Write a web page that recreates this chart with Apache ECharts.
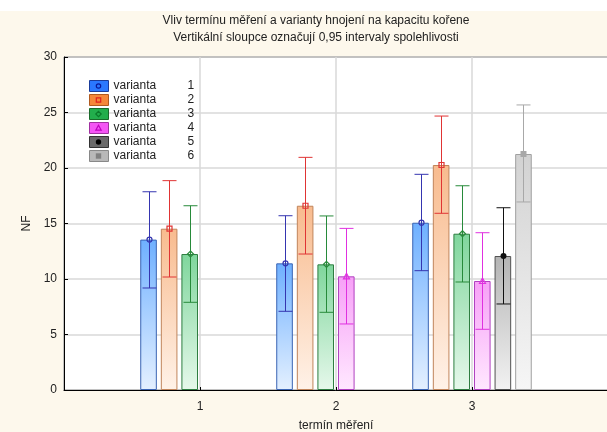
<!DOCTYPE html>
<html><head><meta charset="utf-8">
<script src="https://cdn.jsdelivr.net/npm/echarts@6/dist/echarts.min.js"></script>
<style>html,body{margin:0;padding:0;background:#fdf8ec}#c{width:607px;height:432px}</style>
</head><body><div id="c"></div>
<script>
// ---- data ----
const termCategories = ['', '1', '2', '3', ''];   // padded so 1..3 sit at positions 1..3 of a 0..4 axis
const variantNames = ['varianta 1', 'varianta 2', 'varianta 3', 'varianta 4', 'varianta 5', 'varianta 6'];
const yTickValues = [0, 5, 10, 15, 20, 25, 30];

// means for termín 1, 2, 3
const mean1 = [13.55, 11.41, 15.07];
const mean2 = [14.53, 16.60, 20.27];
const mean3 = [12.25, 11.32, 14.08];
const mean4 = [null, 10.24, 9.82];
const mean5 = [null, null, 12.07];
const mean6 = [null, null, 21.26];
// 0.95 confidence interval bounds
const low1 = [9.19, 7.09, 10.75];
const high1 = [17.86, 15.70, 19.43];
const low2 = [10.18, 12.25, 15.92];
const high2 = [18.86, 20.96, 24.68];
const low3 = [7.90, 7.00, 9.73];
const high3 = [16.60, 15.68, 18.40];
const low4 = [null, 5.95, 5.47];
const high4 = [null, 14.56, 14.17];
const low5 = [null, null, 7.75];
const high5 = [null, null, 16.42];
const low6 = [null, null, 16.94];
const high6 = [null, null, 25.68];

const means = [mean1, mean2, mean3, mean4, mean5, mean6];
const lows = [low1, low2, low3, low4, low5, low6];
const highs = [high1, high2, high3, high4, high5, high6];

// ---- styles ----
const FONT = 'Liberation Sans, Arial, sans-serif';
const TXT = '#222';
const BAR_W = 16.6;
const BAR_GAP = 0.24;
const barTop = ['#6eb0ff', '#f8bb8e', '#7fd69c', '#f7a0f7', '#b4b4b4', '#d2d2d2'];
const barBottom = ['#e4f0ff', '#fff2e8', '#e6f8eb', '#ffe8ff', '#f2f2f2', '#f6f6f6'];
const barBorder = ['#3a64b4', '#c0845a', '#2e7d40', '#b040c0', '#505050', '#a0a0a0'];
const whiskerColor = ['#3535b0', '#e03434', '#278a3a', '#e030e0', '#111111', '#a8a8a8'];
const markerType = ['circle', 'square', 'diamond', 'triangle', 'dot', 'block'];
const legendFill = ['#2a78ff', '#f5883a', '#22ae4c', '#f455f4', '#6a6a6a', '#b8b8b8'];
const legendBorder = ['#1a3c9a', '#b05a20', '#1a6a2a', '#a030a0', '#333333', '#888888'];
const legendMarkColor = ['#0a1a9a', '#e02020', '#0a7a2a', '#c000c0', '#000000', '#808080'];

function markerShape(type, x, y, color, s) {
  const r = s;
  switch (type) {
    case 'circle': return {type: 'circle', shape: {cx: x, cy: y, r: r}, style: {fill: 'transparent', stroke: color, lineWidth: 1.2}};
    case 'square': return {type: 'rect', shape: {x: x - r, y: y - r, width: 2 * r, height: 2 * r}, style: {fill: 'transparent', stroke: color, lineWidth: 1.2}};
    case 'diamond': return {type: 'polygon', shape: {points: [[x, y - r - 0.5], [x + r + 0.5, y], [x, y + r + 0.5], [x - r - 0.5, y]]}, style: {fill: 'transparent', stroke: color, lineWidth: 1.2}};
    case 'triangle': return {type: 'polygon', shape: {points: [[x, y - r - 0.5], [x + r + 0.5, y + r], [x - r - 0.5, y + r]]}, style: {fill: 'transparent', stroke: color, lineWidth: 1.2}};
    case 'dot': return {type: 'circle', shape: {cx: x, cy: y, r: r + 0.5}, style: {fill: color}};
    default: return {type: 'rect', shape: {x: x - r - 0.5, y: y - r - 0.5, width: 2 * r + 1, height: 2 * r + 1}, style: {fill: color}};
  }
}

const series = [];
variantNames.forEach((name, k) => {
  series.push({
    name: name,
    type: 'bar',
    barWidth: BAR_W,
    barGap: (BAR_GAP * 100) + '%',
    data: [null].concat(means[k], [null]),
    itemStyle: {
      color: {type: 'linear', x: 0, y: 0, x2: 0, y2: 1, colorStops: [
        {offset: 0, color: barTop[k]}, {offset: 1, color: barBottom[k]}]},
      borderColor: barBorder[k], borderWidth: 1
    },
    emphasis: {disabled: true},
    z: 2
  });
});
variantNames.forEach((name, k) => {
  const data = [];
  means[k].forEach((m, t) => { if (m != null) data.push([t + 1, m, lows[k][t], highs[k][t]]); });
  series.push({
    name: name + ' CI',
    type: 'custom',
    data: data,
    encode: {x: 0, y: [1, 2, 3]},
    z: 5,
    silent: true,
    renderItem: function (params, api) {
      const cat = api.value(0), m = api.value(1), lo = api.value(2), hi = api.value(3);
      const step = BAR_W * (1 + BAR_GAP);
      const base = api.coord([cat, m]);
      const x = Math.round(base[0] + (k - 2.5) * step) + 0.5;
      const yM = base[1];
      const yLo = api.coord([cat, lo])[1];
      const yHi = api.coord([cat, hi])[1];
      const c = whiskerColor[k];
      const ls = {stroke: c, lineWidth: 1};
      return {type: 'group', children: [
        {type: 'line', shape: {x1: x, y1: yHi, x2: x, y2: yLo}, style: ls},
        {type: 'line', shape: {x1: x - 7, y1: yHi, x2: x + 7, y2: yHi}, style: ls},
        {type: 'line', shape: {x1: x - 7, y1: yLo, x2: x + 7, y2: yLo}, style: ls},
        markerShape(markerType[k], x, yM, c, 2.5)
      ]};
    }
  });
});

// legend item markers
const LEG_LEFT = 89, LEG_TOP = 80, LEG_ROW = 14, LEG_ITEM_H = 12, LEG_W = 19, LEG_H = 11;
const legendMarks = variantNames.map((n, k) =>
  Object.assign(markerShape(markerType[k], LEG_LEFT + LEG_W / 2, LEG_TOP + LEG_ITEM_H / 2 + k * LEG_ROW, legendMarkColor[k], 2.2), {z: 100, silent: true}));

const chart = echarts.init(document.getElementById('c'), null, {renderer: 'canvas'});
chart.setOption({
  backgroundColor: '#fdf8ec',
  animation: false,
  textStyle: {fontFamily: FONT},
  graphic: [
    {type: 'rect', shape: {x: 0, y: 0, width: 607, height: 11}, style: {fill: '#ffffff'}, z: 0, silent: true},
    {type: 'text', x: 316, y: 21, style: {text: 'Vliv termínu měření a varianty hnojení na kapacitu kořene', font: '12px ' + FONT, fill: TXT, align: 'center', verticalAlign: 'middle'}},
    {type: 'text', x: 316, y: 38, style: {text: 'Vertikální sloupce označují 0,95 intervaly spolehlivosti', font: '12px ' + FONT, fill: TXT, align: 'center', verticalAlign: 'middle'}}
  ].concat(legendMarks),
  grid: {left: 64, top: 57, width: 544, height: 333, show: true, backgroundColor: '#ffffff', borderColor: '#000', borderWidth: 1,
    outerBoundsMode: 'none', containLabel: false},
  legend: {
    orient: 'vertical', left: LEG_LEFT, top: LEG_TOP, padding: 0, itemWidth: LEG_W, itemHeight: LEG_H, itemGap: LEG_ROW - LEG_ITEM_H,
    icon: 'rect', selectedMode: false,
    data: variantNames.map((n, k) => ({name: n, itemStyle: {color: legendFill[k], borderColor: legendBorder[k], borderWidth: 1}})),
    formatter: function (n) { const p = n.split(' '); return '{a|' + p[0] + '}{b|' + p[1] + '}'; },
    textStyle: {fontSize: 12, color: TXT, fontFamily: FONT, lineHeight: 11,
      rich: {a: {width: 74, fontSize: 12, lineHeight: 11, fontFamily: FONT, color: TXT}, b: {fontSize: 12, lineHeight: 11, fontFamily: FONT, color: TXT}}}
  },
  xAxis: {
    type: 'category', data: termCategories, boundaryGap: false,
    name: 'termín měření', nameLocation: 'middle', nameGap: 30,
    nameTextStyle: {fontSize: 12, color: TXT, fontFamily: FONT},
    axisLine: {lineStyle: {color: '#000', width: 1}},
    axisTick: {inside: true, length: 3, lineStyle: {color: '#000'}, interval: 0},
    axisLabel: {fontSize: 12, color: TXT, margin: 11, interval: 0},
    splitLine: {show: true, lineStyle: {color: '#d8d8d8', width: 1.5}}
  },
  yAxis: {
    type: 'value', min: yTickValues[0], max: yTickValues[yTickValues.length - 1], interval: yTickValues[1] - yTickValues[0],
    name: 'NF', nameLocation: 'middle', nameGap: 27,
    nameTextStyle: {fontSize: 12, color: TXT, fontFamily: FONT},
    axisLine: {show: true, lineStyle: {color: '#000', width: 1}},
    axisTick: {show: true, inside: true, length: 4, lineStyle: {color: '#000'}},
    axisLabel: {fontSize: 12, color: TXT, margin: 7},
    splitLine: {show: true, lineStyle: {color: '#d8d8d8', width: 1.5}}
  },
  series: series
});
</script></body></html>
